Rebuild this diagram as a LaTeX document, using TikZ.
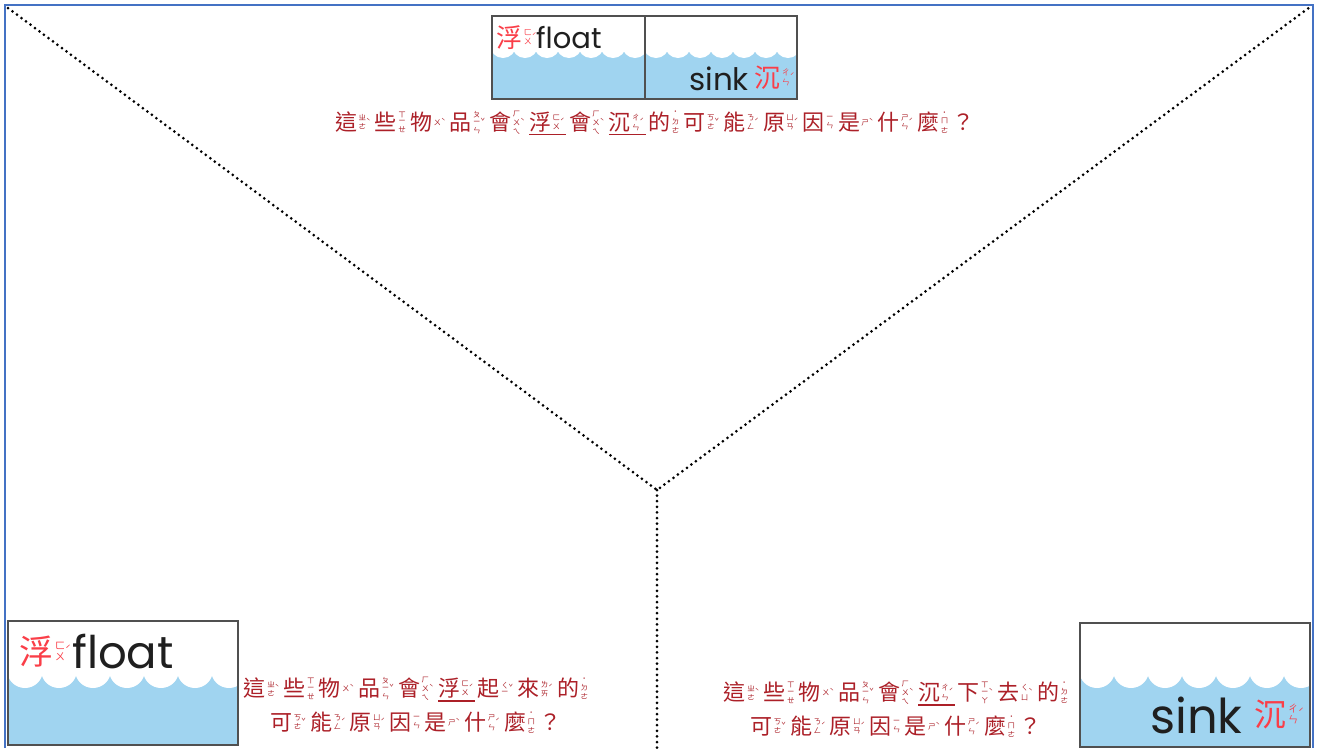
\documentclass[tikz,border=0pt]{standalone}
\usepackage{fontspec}
\usepackage{tikz}
\usetikzlibrary{calc}

\newfontfamily\cjk{Noto Sans CJK TC}
\newfontfamily\cardfont{Poppins}

\definecolor{qred}{RGB}{172,32,40}
\definecolor{cardred}{RGB}{250,62,72}
\definecolor{cardblue}{RGB}{160,212,240}
\definecolor{cardgray}{RGB}{80,80,80}
\definecolor{frameblue}{RGB}{68,114,196}

% character with its zhuyin column (size, char, symbols, tone)
\newcommand\zy[4][7.5]{#2\hspace{.06em}%
  \raisebox{\dimexpr.38em-.5\height\relax}{\fontsize{#1}{#1}\selectfont\shortstack{#3}}%
  \raisebox{.3em}{\fontsize{#1}{#1}\selectfont#4}\hspace{.2em}}
% thicker underline
\newcommand\ul[1]{\setbox0\hbox{#1}\rlap{\raisebox{-.21em}{\rule{\dimexpr\wd0-.12em\relax}{1.2pt}}}\box0}

\begin{document}
\begin{tikzpicture}[x=1pt,y=-1pt,
    question/.style={font=\cjk\fontsize{22}{34}\selectfont, text=qred, align=center, inner sep=0pt},
    dotline/.style={line width=3pt, dash pattern=on 0pt off 5.6pt, line cap=round},
    cardedge/.style={draw=cardgray, line width=1.6pt},
    cardword/.style={font=\cardfont\fontsize{#1}{#1}\selectfont, text=black!88, inner sep=0pt},
    cardzh/.style={font=\cjk\fontsize{#1}{#1}\selectfont, text=cardred, inner sep=0pt}]

    \useasboundingbox (0,0) rectangle (1317,748);
    \fill[white] (0,0) rectangle (1317,748);

    % frame
    \draw[frameblue, line width=2pt] (5,748) -- (5,5) -- (1313,5) -- (1313,748);

    % the three parts
    \coordinate (tl) at (8,8);
    \coordinate (tr) at (1310,7);
    \coordinate (mid) at (657,490);
    \coordinate (bot) at (657,748);
    \draw[dotline] (tl) -- (mid) -- (tr);
    \draw[dotline] (mid) -- (bot);

    % top cards
    \begin{scope}
        \clip (492,16) rectangle (797,99);
        \fill[cardblue] (492,52) rectangle (797,99);
        \foreach \i in {0,...,6} \fill[white] ({492+11+22*\i},45) circle[radius=13pt];
        \foreach \i in {0,...,6} \fill[white] ({645+11+22*\i},45) circle[radius=13pt];
    \end{scope}
    \draw[cardedge] (492,16) rectangle (645,99);
    \draw[cardedge] (645,16) rectangle (797,99);
    \node[cardzh=26, anchor=base west] (fuA) at (496,47) {\zy[8]{浮}{ㄈ\\ㄨ}{ˊ}};
    \node[cardword=29, anchor=base west] (floatA) at (536,48) {float};
    \node[cardword=31, anchor=base west] (sinkA) at (689,90) {sink};
    \node[cardzh=26, anchor=base west] (chenA) at (754,87) {\zy[8]{沉}{ㄔ\\ㄣ}{ˊ}};

    % bottom left card
    \begin{scope}
        \clip (8,621) rectangle (238,745);
        \fill[cardblue] (8,676) rectangle (238,745);
        \foreach \i in {0,...,6} \fill[white] ({8+17+34*\i},670) circle[radius=18pt];
    \end{scope}
    \draw[cardedge] (8,621) rectangle (238,745);
    \node[cardzh=34, anchor=base west] (fuB) at (19,664) {\zy[10]{浮}{ㄈ\\ㄨ}{ˊ}};
    \node[cardword=45, anchor=base west] (floatB) at (72,668) {float};

    % bottom right card
    \begin{scope}
        \clip (1080,623) rectangle (1310,747);
        \fill[cardblue] (1080,676) rectangle (1310,747);
        \foreach \i in {0,...,6} \fill[white] ({1080+17+34*\i},670) circle[radius=18pt];
    \end{scope}
    \draw[cardedge] (1080,623) rectangle (1310,747);
    \node[cardword=48, anchor=base west] (sinkB) at (1150,733) {sink};
    \node[cardzh=32, anchor=base west] (chenB) at (1254,726) {\zy[10]{沉}{ㄔ\\ㄣ}{ˊ}};

    % questions
    \node[question] (qtop) at (655,123) {\zy{這}{ㄓ\\ㄜ}{ˋ}\zy{些}{ㄒ\\ㄧ\\ㄝ}{}\zy{物}{ㄨ}{ˋ}\zy{品}{ㄆ\\ㄧ\\ㄣ}{ˇ}\zy{會}{ㄏ\\ㄨ\\ㄟ}{ˋ}\ul{\zy{浮}{ㄈ\\ㄨ}{ˊ}}\zy{會}{ㄏ\\ㄨ\\ㄟ}{ˋ}\ul{\zy{沉}{ㄔ\\ㄣ}{ˊ}}\zy{的}{˙\\ㄉ\\ㄜ}{}\zy{可}{ㄎ\\ㄜ}{ˇ}\zy{能}{ㄋ\\ㄥ}{ˊ}\zy{原}{ㄩ\\ㄢ}{ˊ}\zy{因}{ㄧ\\ㄣ}{}\zy{是}{ㄕ}{ˋ}\zy{什}{ㄕ\\ㄣ}{ˊ}\zy{麼}{˙\\ㄇ\\ㄜ}{}？};

    \node[question] (qfloat) at (416,705) {\zy{這}{ㄓ\\ㄜ}{ˋ}\zy{些}{ㄒ\\ㄧ\\ㄝ}{}\zy{物}{ㄨ}{ˋ}\zy{品}{ㄆ\\ㄧ\\ㄣ}{ˇ}\zy{會}{ㄏ\\ㄨ\\ㄟ}{ˋ}\ul{\zy{浮}{ㄈ\\ㄨ}{ˊ}}\zy{起}{ㄑ\\ㄧ}{ˇ}\zy{來}{ㄌ\\ㄞ}{ˊ}\zy{的}{˙\\ㄉ\\ㄜ}{}\\
        \zy{可}{ㄎ\\ㄜ}{ˇ}\zy{能}{ㄋ\\ㄥ}{ˊ}\zy{原}{ㄩ\\ㄢ}{ˊ}\zy{因}{ㄧ\\ㄣ}{}\zy{是}{ㄕ}{ˋ}\zy{什}{ㄕ\\ㄣ}{ˊ}\zy{麼}{˙\\ㄇ\\ㄜ}{}？};

    \node[question] (qsink) at (896,709) {\zy{這}{ㄓ\\ㄜ}{ˋ}\zy{些}{ㄒ\\ㄧ\\ㄝ}{}\zy{物}{ㄨ}{ˋ}\zy{品}{ㄆ\\ㄧ\\ㄣ}{ˇ}\zy{會}{ㄏ\\ㄨ\\ㄟ}{ˋ}\ul{\zy{沉}{ㄔ\\ㄣ}{ˊ}}\zy{下}{ㄒ\\ㄧ\\ㄚ}{ˋ}\zy{去}{ㄑ\\ㄩ}{ˋ}\zy{的}{˙\\ㄉ\\ㄜ}{}\\
        \zy{可}{ㄎ\\ㄜ}{ˇ}\zy{能}{ㄋ\\ㄥ}{ˊ}\zy{原}{ㄩ\\ㄢ}{ˊ}\zy{因}{ㄧ\\ㄣ}{}\zy{是}{ㄕ}{ˋ}\zy{什}{ㄕ\\ㄣ}{ˊ}\zy{麼}{˙\\ㄇ\\ㄜ}{}？};

\end{tikzpicture}
\end{document}
